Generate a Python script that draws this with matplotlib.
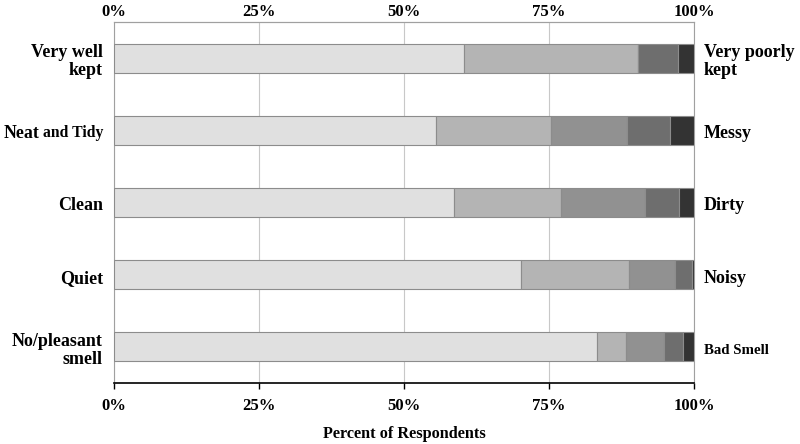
import matplotlib
matplotlib.use("Agg")
import matplotlib.pyplot as plt
import numpy as np

left_labels = ["Very well\nkept", "Neat and Tidy", "Clean", "Quiet", "No/pleasant\nsmell"]
right_labels = ["Very poorly\nkept", "Messy", "Dirty", "Noisy", "Bad Smell"]
seg1 = [60.4, 55.5, 58.6, 70.2, 83.3]
seg2 = [30.0, 19.8, 18.4, 18.6, 5.0]
seg3 = [0.0, 13.1, 14.5, 8.0, 6.5]
seg4 = [6.9, 7.4, 5.9, 2.9, 3.3]
seg5 = [2.7, 4.2, 2.6, 0.3, 1.9]
xticks = [0, 25, 50, 75, 100]
xticklabels = ["0%", "25%", "50%", "75%", "100%"]
colors = ["#e0e0e0", "#b4b4b4", "#919191", "#6e6e6e", "#333333"]

plt.rcParams['font.family'] = ['Liberation Serif', 'DejaVu Serif']
plt.rcParams['font.weight'] = 'bold'

fig = plt.figure(figsize=(8, 4.44), dpi=100)
ax = fig.add_axes([0.1425, 0.1374, 0.725, 0.8131])

y = np.arange(len(left_labels))
left = np.zeros(len(y))
for seg, c in zip([seg1, seg2, seg3, seg4, seg5], colors):
    ax.barh(y, seg, left=left, height=0.4, color=c, edgecolor="#8c8c8c", linewidth=0.8, zorder=3)
    left += np.array(seg)

ax.set_xlim(0, 100)
ax.set_ylim(len(y) - 0.5, -0.5)
ax.set_xticks(xticks)
ax.set_xticklabels(xticklabels, fontsize=12, fontweight='bold')
ax.tick_params(axis='x', which='both', top=False, bottom=True,
               direction='out', length=4, width=1, color='black', pad=7)
ax.set_yticks([])
ax.grid(axis='x', color='#c8c8c8', linewidth=0.8, zorder=0)
for s in ['top', 'left', 'right']:
    ax.spines[s].set_color('#a0a0a0')
    ax.spines[s].set_linewidth(0.8)
ax.spines['bottom'].set_color('black')
ax.spines['bottom'].set_linewidth(1.2)

sec = ax.secondary_xaxis('top')
sec.set_xticks(xticks)
sec.set_xticklabels(xticklabels, fontsize=12, fontweight='bold')
sec.tick_params(axis='x', length=0, pad=1.5)
sec.spines['top'].set_color('#a0a0a0')
sec.spines['top'].set_linewidth(0.8)

ax.set_xlabel("Percent of Respondents", fontsize=11.7, fontweight='bold', labelpad=8.5)

dy = -2.5
for i, lab in enumerate(left_labels):
    if lab == "Neat and Tidy":
        ax.annotate("and Tidy", xy=(0, i), xycoords=('axes fraction', 'data'),
                    xytext=(-8, dy + 0.3), textcoords='offset points',
                    ha='right', va='center', fontsize=11.3, fontweight='bold')
        ax.annotate("Neat", xy=(0, i), xycoords=('axes fraction', 'data'),
                    xytext=(-54, dy), textcoords='offset points',
                    ha='right', va='center', fontsize=12.8, fontweight='bold')
    else:
        ax.annotate(lab, xy=(0, i), xycoords=('axes fraction', 'data'),
                    xytext=(-8, dy), textcoords='offset points',
                    ha='right', va='center', fontsize=13, fontweight='bold',
                    linespacing=1.05)

for i, lab in enumerate(right_labels):
    fs = 10.7 if lab == "Bad Smell" else 13
    ax.annotate(lab, xy=(1, i), xycoords=('axes fraction', 'data'),
                xytext=(7, dy), textcoords='offset points',
                ha='left', va='center', fontsize=fs, fontweight='bold',
                linespacing=1.05)

fig.savefig("out.png", dpi=100)
